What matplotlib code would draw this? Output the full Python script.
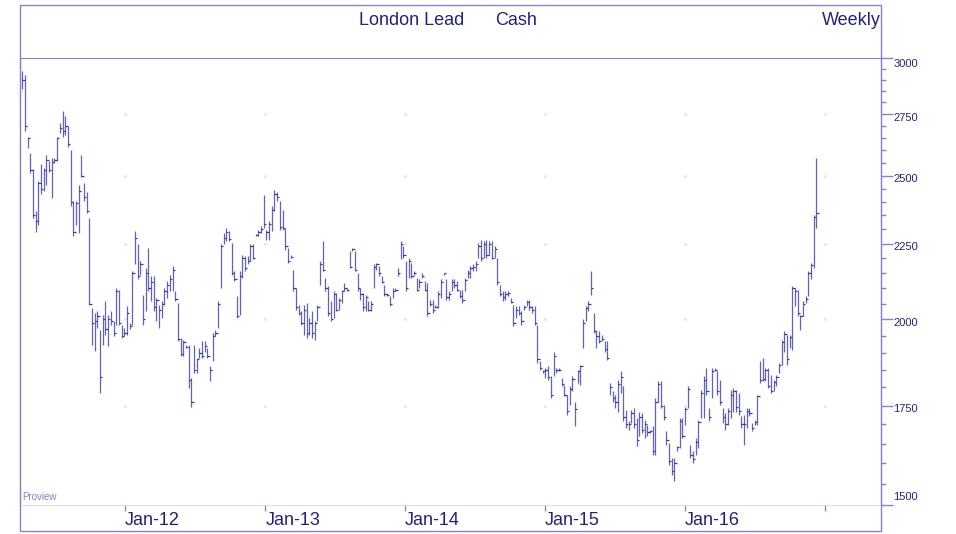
import numpy as np
import pandas as pd
import matplotlib
matplotlib.use('Agg')
import matplotlib.pyplot as plt
import matplotlib.dates as mdates
from matplotlib.patches import Rectangle
from matplotlib.ticker import FixedLocator, NullFormatter

plt.rcParams['font.family'] = ['Liberation Sans', 'DejaVu Sans']

# weekly bars, London lead cash (USD/t)
first_week = '2011-04-08'

high = [2940, 2920, 2656, 2590, 2525, 2365, 2480, 2545, 2530, 2580,
        2556, 2569, 2569, 2656, 2712, 2762, 2740, 2698, 2602, 2402,
        2402, 2465, 2582, 2470, 2439, 2340, 2036, 2020, 2026, 1969,
        2015, 2057, 2015, 2026, 1995, 2100, 2094, 1984, 1974, 2041,
        1990, 2155, 2293, 2247, 2189, 2078, 2166, 2235, 2139, 2139,
        2068, 2046, 2057, 2100, 2122, 2144, 2172, 2089, 2052, 1943,
        1938, 1923, 1923, 1827, 1923, 1884, 1913, 1933, 1933, 1913,
        1860, 1958, 1969, 2057, 2247, 2287, 2305, 2293, 2252, 2155,
        2073, 2155, 2212, 2206, 2206, 2247, 2247, 2282, 2299, 2311,
        2427, 2299, 2329, 2383, 2445, 2439, 2402, 2371, 2305, 2235,
        2212, 2161, 2100, 2046, 2026, 2046, 2052, 2005, 2026, 1995,
        2046, 2189, 2258, 2133, 2106, 2057, 2089, 2084, 2068, 2094,
        2116, 2100, 2224, 2235, 2224, 2150, 2100, 2084, 2078, 2057,
        2057, 2178, 2183, 2172, 2139, 2111, 2084, 2073, 2100, 2100,
        2166, 2258, 2241, 2189, 2200, 2183, 2155, 2133, 2128, 2150,
        2122, 2116, 2062, 2062, 2046, 2089, 2128, 2150, 2128, 2089,
        2128, 2128, 2122, 2094, 2094, 2133, 2161, 2172, 2178, 2189,
        2252, 2264, 2258, 2264, 2258, 2258, 2241, 2200, 2111, 2089,
        2089, 2089, 2068, 2046, 2041, 2041, 2026, 2046, 2062, 2062,
        2041, 2041, 1984, 1874, 1850, 1855, 1860, 1831, 1903, 1855,
        1855, 1827, 1808, 1780, 1803, 1831, 1761, 1850, 1865, 2000,
        2041, 2057, 2155, 2020, 1969, 1964, 1953, 1933, 1933, 1813,
        1789, 1780, 1822, 1846, 1803, 1739, 1708, 1739, 1743, 1717,
        1734, 1730, 1712, 1699, 1686, 1695, 1770, 1817, 1817, 1752,
        1682, 1652, 1613, 1613, 1643, 1717, 1717, 1747, 1803, 1647,
        1630, 1665, 1712, 1794, 1831, 1855, 1743, 1855, 1855, 1846,
        1822, 1743, 1730, 1743, 1794, 1798, 1794, 1784, 1721, 1725,
        1743, 1743, 1704, 1712, 1780, 1874, 1884, 1855, 1855, 1836,
        1822, 1836, 1870, 1938, 1964, 1953, 1953, 2106, 2100, 2094,
        2015, 2057, 2073, 2155, 2183, 2352, 2569]

low = [2860, 2680, 2610, 2510, 2340, 2290, 2317, 2430, 2440, 2465,
       2515, 2415, 2550, 2556, 2670, 2655, 2662, 2615, 2383, 2275,
       2317, 2287, 2496, 2402, 2358, 2046, 1923, 1904, 1974, 1784,
       1923, 1953, 1918, 1984, 1948, 1984, 1984, 1943, 1948, 1953,
       1970, 1984, 2178, 2128, 2144, 1984, 2026, 2089, 2057, 2026,
       1995, 1974, 2005, 2046, 2068, 2089, 2089, 2057, 1933, 1889,
       1889, 1913, 1798, 1747, 1841, 1841, 1884, 1884, 1903, 1884,
       1817, 1874, 1948, 1974, 2100, 2247, 2258, 2258, 2144, 2122,
       2005, 2015, 2133, 2155, 2178, 2189, 2195, 2275, 2275, 2287,
       2305, 2264, 2264, 2293, 2365, 2402, 2299, 2299, 2229, 2183,
       2200, 2089, 2031, 2015, 1984, 1953, 1943, 1953, 1943, 1938,
       1995, 2111, 2155, 2089, 2010, 1995, 2005, 2026, 2031, 2052,
       2089, 2089, 2166, 2224, 2155, 2089, 2062, 2026, 2026, 2026,
       2026, 2100, 2161, 2139, 2116, 2073, 2073, 2041, 2068, 2089,
       2139, 2195, 2200, 2089, 2133, 2133, 2144, 2089, 2100, 2133,
       2089, 2010, 2041, 2020, 2036, 2036, 2068, 2144, 2062, 2062,
       2089, 2100, 2089, 2068, 2052, 2089, 2133, 2133, 2155, 2155,
       2200, 2189, 2200, 2200, 2212, 2195, 2200, 2111, 2073, 2057,
       2062, 2073, 2052, 1979, 2005, 2015, 1984, 2031, 2041, 2031,
       2020, 1984, 1870, 1850, 1841, 1827, 1822, 1771, 1831, 1841,
       1846, 1803, 1775, 1725, 1752, 1789, 1695, 1812, 1808, 1913,
       1995, 2026, 2078, 1958, 1913, 1928, 1933, 1903, 1879, 1780,
       1761, 1743, 1734, 1784, 1708, 1690, 1686, 1704, 1690, 1643,
       1669, 1678, 1665, 1669, 1678, 1622, 1622, 1761, 1743, 1712,
       1647, 1597, 1572, 1556, 1630, 1639, 1665, 1699, 1743, 1613,
       1601, 1622, 1639, 1717, 1717, 1780, 1708, 1770, 1846, 1780,
       1752, 1704, 1686, 1699, 1717, 1734, 1734, 1725, 1690, 1647,
       1690, 1721, 1682, 1699, 1699, 1813, 1817, 1817, 1798, 1784,
       1789, 1803, 1841, 1865, 1903, 1865, 1913, 1908, 2041, 2010,
       1969, 2010, 2052, 2073, 2128, 2166, 2305]

close = [2900, 2700, 2650, 2520, 2350, 2330, 2470, 2450, 2520, 2560,
         2520, 2555, 2560, 2650, 2690, 2680, 2700, 2625, 2400, 2290,
         2395, 2440, 2500, 2420, 2365, 2050, 1990, 1995, 2010, 1830,
         2000, 1970, 2000, 1995, 1960, 2090, 1990, 1950, 1960, 2020,
         1980, 2150, 2270, 2140, 2180, 2000, 2150, 2100, 2120, 2040,
         2060, 2030, 2050, 2090, 2110, 2130, 2160, 2065, 1940, 1895,
         1930, 1915, 1820, 1760, 1850, 1880, 1900, 1890, 1920, 1890,
         1850, 1950, 1960, 2050, 2240, 2270, 2290, 2265, 2150, 2130,
         2010, 2140, 2200, 2165, 2190, 2240, 2200, 2280, 2290, 2300,
         2320, 2290, 2320, 2370, 2430, 2420, 2310, 2305, 2240, 2190,
         2205, 2100, 2040, 2020, 1990, 2030, 1960, 1990, 1960, 1990,
         2040, 2180, 2160, 2100, 2020, 2000, 2080, 2030, 2060, 2090,
         2100, 2095, 2170, 2230, 2160, 2100, 2080, 2040, 2070, 2030,
         2050, 2170, 2180, 2150, 2120, 2080, 2078, 2050, 2090, 2095,
         2150, 2250, 2210, 2100, 2190, 2140, 2150, 2095, 2120, 2140,
         2095, 2020, 2050, 2030, 2040, 2080, 2120, 2148, 2070, 2080,
         2120, 2110, 2095, 2075, 2060, 2125, 2150, 2165, 2170, 2180,
         2240, 2200, 2250, 2210, 2250, 2200, 2230, 2120, 2080, 2070,
         2080, 2085, 2055, 1990, 2030, 2020, 1995, 2040, 2055, 2040,
         2030, 1990, 1880, 1855, 1845, 1850, 1830, 1780, 1890, 1850,
         1850, 1810, 1780, 1735, 1795, 1825, 1740, 1845, 1860, 1990,
         2036, 2050, 2100, 1965, 1950, 1935, 1940, 1910, 1885, 1800,
         1770, 1760, 1810, 1830, 1720, 1700, 1700, 1730, 1700, 1660,
         1720, 1685, 1700, 1680, 1682, 1630, 1760, 1810, 1750, 1720,
         1660, 1605, 1580, 1600, 1640, 1710, 1670, 1740, 1795, 1620,
         1610, 1655, 1705, 1785, 1820, 1790, 1720, 1845, 1850, 1790,
         1760, 1720, 1700, 1735, 1780, 1790, 1745, 1735, 1700, 1700,
         1735, 1730, 1690, 1705, 1775, 1820, 1825, 1850, 1805, 1790,
         1815, 1830, 1865, 1930, 1955, 1880, 1945, 2100, 2090, 2020,
         2010, 2050, 2065, 2150, 2175, 2345, 2360]

year_ticks = ['2012-01-01', '2013-01-01', '2014-01-01', '2015-01-01', '2016-01-01', '2017-01-01']
year_labels = ['Jan-12', 'Jan-13', 'Jan-14', 'Jan-15', 'Jan-16', '']
price_ticks = [1500, 1750, 2000, 2250, 2500, 2750, 3000]

frame_col = '#8484c8'
text_col = '#22227a'
bar_col = '#6262b8'
tick_col = '#3a3a98'

W, H = 956, 534
def fx(px):
    return px / W
def fy(py):
    return 1 - py / H

fig = plt.figure(figsize=(W / 100, H / 100), dpi=100)
ax = fig.add_axes([fx(20), fy(505), fx(881) - fx(20), fy(58) - fy(505)])

weeks = pd.date_range(first_week, periods=len(close), freq='7D')
x = mdates.date2num(weeks)
ax.vlines(x, low, high, color=bar_col, lw=0.9)
ax.hlines(close, x, x + 6, color=tick_col, lw=0.9)

# x range: Jan-12 sits at px 125, Jan-16 at px 685
xt = mdates.date2num(pd.to_datetime(year_ticks))
ppd = (685 - 125) / (xt[4] - xt[0])
ax.set_xlim(xt[0] - (125 - 20) / ppd, xt[0] + (881 - 125) / ppd)

ax.set_yscale('log')
ax.set_ylim(1500, 3000)
minor = [p for p in range(1550, 3000, 50) if p not in price_ticks]
ax.yaxis.set_major_locator(FixedLocator(price_ticks))
ax.yaxis.set_minor_locator(FixedLocator(minor))
ax.yaxis.set_major_formatter(NullFormatter())
ax.yaxis.set_minor_formatter(NullFormatter())
ax.yaxis.tick_right()
ax.tick_params(axis='y', which='major', direction='out', length=8.6, width=1, color=frame_col)
ax.tick_params(axis='y', which='minor', direction='out', length=3.6, width=1, color=frame_col)

for p in price_ticks:
    va = 'center'
    dy = -2.5
    if p == price_ticks[-1]:
        va, dy = 'top', -1
    elif p == price_ticks[0]:
        va, dy = 'bottom', 2
    ax.annotate(str(p), xy=(1, p), xycoords=('axes fraction', 'data'),
                xytext=(9, dy), textcoords='offset points',
                ha='left', va=va, fontsize=8, color=text_col)

ax.set_xticks(xt)
ax.set_xticklabels(year_labels)
ax.tick_params(axis='x', direction='out', length=4.3, width=1, color=frame_col,
               labelsize=13, labelcolor=text_col, pad=0.5)
for lbl in ax.get_xticklabels():
    lbl.set_ha('left')

# faint grid dots at year / major price crossings
gx, gy = np.meshgrid(xt, price_ticks[1:-1])
ax.plot(gx.ravel(), gy.ravel(), ls='none', marker='s', ms=0.8, color='#e0e0e0')

for side in ['left', 'right', 'top']:
    ax.spines[side].set_color(frame_col)
ax.spines['bottom'].set_color('#dcdcec')

fig.add_artist(Rectangle((fx(20), fy(531)), fx(881) - fx(20), fy(5) - fy(531),
                         transform=fig.transFigure, fill=False, ec=frame_col, lw=1))

fig.text(fx(412), fy(25), 'London Lead', ha='center', va='baseline', fontsize=13, color=text_col)
fig.text(fx(516), fy(25), 'Cash', ha='center', va='baseline', fontsize=13, color=text_col)
fig.text(fx(881), fy(25), 'Weekly', ha='right', va='baseline', fontsize=13, color=text_col)
fig.text(fx(22), fy(500), 'Proview', ha='left', va='baseline', fontsize=7, color=frame_col)

fig.savefig('out.png', dpi=100)
